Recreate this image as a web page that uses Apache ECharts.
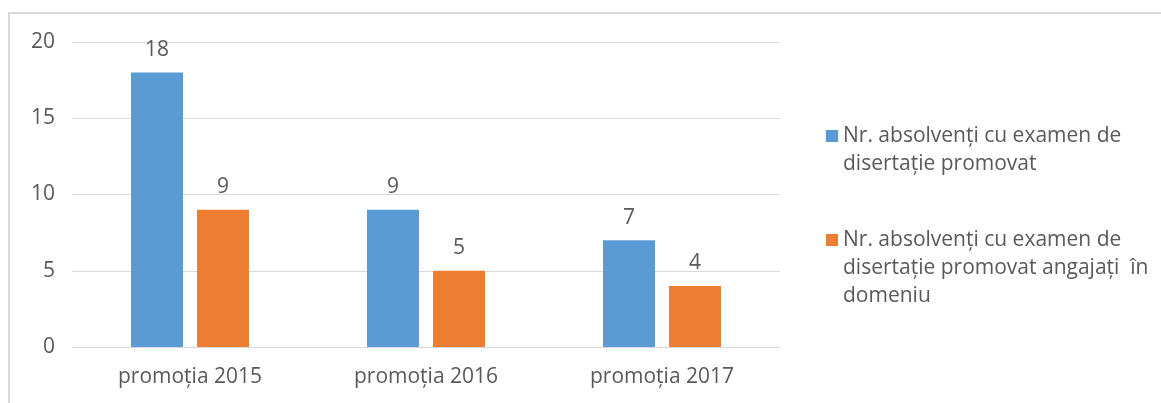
<!DOCTYPE html>
<html>
<head>
<meta charset="utf-8">
<script src="https://cdn.jsdelivr.net/npm/echarts@6/dist/echarts.min.js"></script>
<style>
  html, body { margin: 0; padding: 0; background: #fff; }
  #chart { width: 1161px; height: 403px; }
</style>
</head>
<body>
<div id="chart"></div>
<script>
const categories = ['promoția 2015', 'promoția 2016', 'promoția 2017'];
const seriesNames = [
  'Nr. absolvenți cu examen de\ndisertație promovat',
  'Nr. absolvenți cu examen de\ndisertație promovat angajați  în\ndomeniu'
];
const promovati = [18, 9, 7];
const angajati = [9, 5, 4];
const yTicks = { min: 0, max: 20, interval: 5 };

const font = '"Open Sans", Lato, sans-serif';
const fontSize = 21;
const textColor = '#595959';
const lineH = 28;

const chart = echarts.init(document.getElementById('chart'));

// square sits next to the first line; extra moveTo points stretch the box
const iconFor = (lines) => 'path://M0,0 M0,8h12v12h-12z M0,' + (lines * lineH);

const legendFor = (name, top) => {
  const lines = name.split('\n').length;
  return {
    data: [name],
    left: 821,
    top: top,
    orient: 'vertical',
    icon: iconFor(lines),
    itemWidth: 12,
    itemHeight: lines * lineH,
    itemGap: 0,
    selectedMode: false,
    textStyle: {
      fontFamily: font,
      fontSize: fontSize,
      color: textColor,
      lineHeight: lineH,
      padding: [0, 0, 0, 0]
    }
  };
};

const barLabel = {
  show: true,
  position: 'top',
  distance: 12,
  color: textColor,
  fontSize: fontSize,
  fontFamily: font
};

const option = {
  animation: false,
  backgroundColor: '#fff',
  textStyle: { fontFamily: font },
  graphic: [
    {
      type: 'rect',
      shape: { x: 9, y: 13, width: 1200, height: 450 },
      style: { fill: 'none', stroke: '#d9d9d9', lineWidth: 2 },
      silent: true
    }
  ],
  legend: [legendFor(seriesNames[0], 117), legendFor(seriesNames[1], 221)],
  grid: { left: 72, right: 381, top: 42, bottom: 56 },
  xAxis: {
    type: 'category',
    data: categories,
    axisTick: { show: false },
    axisLine: { lineStyle: { color: '#d9d9d9', width: 1 } },
    axisLabel: { color: textColor, fontSize: fontSize, margin: 20, fontFamily: font }
  },
  yAxis: {
    type: 'value',
    min: yTicks.min,
    max: yTicks.max,
    interval: yTicks.interval,
    axisLine: { show: false },
    axisTick: { show: false },
    splitLine: { lineStyle: { color: '#d9d9d9', width: 1 } },
    axisLabel: { color: textColor, fontSize: fontSize, margin: 17, fontFamily: font }
  },
  series: [
    {
      name: seriesNames[0],
      type: 'bar',
      data: promovati,
      barGap: '27%',
      barCategoryGap: '50%',
      itemStyle: { color: '#5b9bd5' },
      label: barLabel
    },
    {
      name: seriesNames[1],
      type: 'bar',
      data: angajati,
      barGap: '27%',
      barCategoryGap: '50%',
      itemStyle: { color: '#ed7d31' },
      label: barLabel
    }
  ]
};

chart.setOption(option);
</script>
</body>
</html>
